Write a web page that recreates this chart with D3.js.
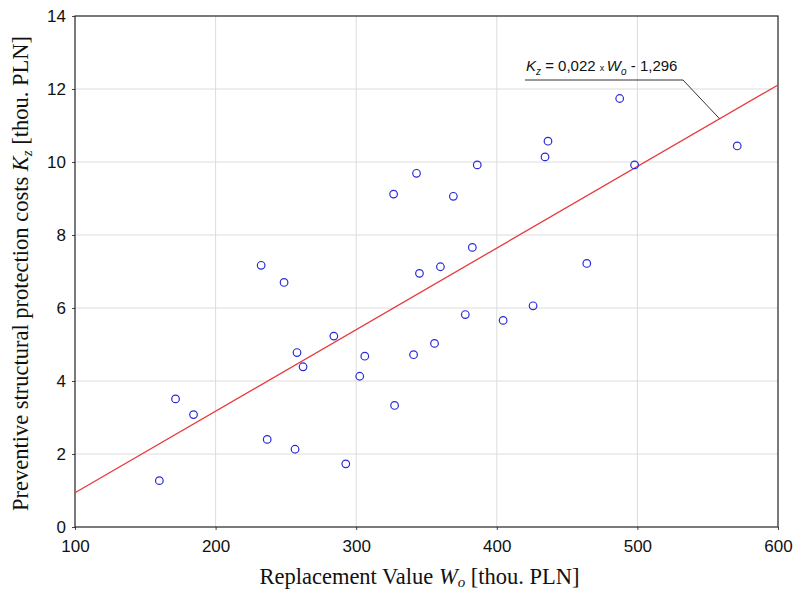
<!DOCTYPE html>
<html>
<head>
<meta charset="utf-8">
<script src="https://cdn.jsdelivr.net/npm/d3@7"></script>
<style>
  body { margin: 0; background: #fff; }
  svg { display: block; }
</style>
</head>
<body>
<div class="chart"></div>
<script>
// replacement value Wo [thou. PLN]
const wo = [160, 171.5, 184.3, 232.4, 236.7, 248.7, 256.5, 257.9, 262.2, 284.1, 292.6,
  302.5, 306.1, 326.6, 327.3, 340.8, 342.9, 345.0, 355.7, 359.9, 369.1, 377.6,
  382.6, 386.1, 404.5, 425.8, 434.3, 436.4, 464.0, 487.4, 498.0, 571.0];
// preventive structural protection costs Kz [thou. PLN]
const kz = [1.27, 3.51, 3.08, 7.17, 2.40, 6.70, 2.13, 4.78, 4.39, 5.23, 1.73,
  4.13, 4.68, 9.12, 3.33, 4.72, 9.69, 6.95, 5.03, 7.13, 9.06, 5.82,
  7.66, 9.92, 5.66, 6.06, 10.14, 10.57, 7.22, 11.74, 9.92, 10.44];
const slope = 0.02234, intercept = -1.294;
const xTicks = [100, 200, 300, 400, 500, 600];
const yTicks = [0, 2, 4, 6, 8, 10, 12, 14];

const W = 794, H = 593;
const margin = { top: 16, right: 16, bottom: 66, left: 75 };
const width = W - margin.left - margin.right,
  height = H - margin.top - margin.bottom;

const svg = d3.select(".chart").append("svg")
  .attr("width", W).attr("height", H);
const g = svg.append("g")
  .attr("transform", `translate(${margin.left},${margin.top})`);

const x = d3.scaleLinear().domain([100, 600]).range([0, width]);
const y = d3.scaleLinear().domain([0, 14]).range([height, 0]);

// grid
g.append("g").selectAll("line").data(xTicks.slice(1, -1)).join("line")
  .attr("x1", d => x(d)).attr("x2", d => x(d))
  .attr("y1", 0).attr("y2", height)
  .attr("stroke", "#dcdcdc");
g.append("g").selectAll("line").data(yTicks.slice(1, -1)).join("line")
  .attr("y1", d => y(d)).attr("y2", d => y(d))
  .attr("x1", 0).attr("x2", width)
  .attr("stroke", "#dcdcdc");

// axes
const xAxis = g.append("g").attr("transform", `translate(0,${height})`)
  .call(d3.axisBottom(x).tickValues(xTicks).tickSize(3).tickSizeOuter(0).tickPadding(6));
const yAxis = g.append("g")
  .call(d3.axisLeft(y).tickValues(yTicks).tickSize(3).tickSizeOuter(0).tickPadding(6));
[xAxis, yAxis].forEach(a => {
  a.select(".domain").remove();
  a.selectAll("text").attr("font-family", "Liberation Sans, Arial, sans-serif")
    .attr("font-size", "17px").attr("fill", "#111");
  a.selectAll(".tick line").attr("stroke", "#444");
});
xAxis.selectAll("text").attr("dy", "0.95em");

// frame
g.append("rect").attr("width", width).attr("height", height)
  .attr("fill", "none").attr("stroke", "#222").attr("stroke-width", 1.2);

// regression line
g.append("line")
  .attr("x1", x(100)).attr("y1", y(slope * 100 + intercept))
  .attr("x2", x(600)).attr("y2", y(slope * 600 + intercept))
  .attr("stroke", "#e8383a").attr("stroke-width", 1.3);

// points
g.append("g").selectAll("circle").data(wo).join("circle")
  .attr("cx", d => x(d)).attr("cy", (d, i) => y(kz[i]))
  .attr("r", 3.8)
  .attr("fill", "none").attr("stroke", "#2a2ad8").attr("stroke-width", 1.2);

// equation label with leader to the fit line
const lx = 558.5, tx = 525, tyLine = 80;
svg.append("polyline")
  .attr("points", `${tx},${tyLine} ${683},${tyLine} ${margin.left + x(lx)},${margin.top + y(slope * lx + intercept)}`)
  .attr("fill", "none").attr("stroke", "#333").attr("stroke-width", 1);
const eq = svg.append("text").attr("x", tx + 1).attr("y", 71)
  .attr("font-family", "Liberation Sans, Arial, sans-serif").attr("font-size", "15px").attr("fill", "#111");
eq.append("tspan").attr("font-style", "italic").text("K");
eq.append("tspan").attr("font-style", "italic").attr("font-size", "10px").attr("dy", 4).text("z");
eq.append("tspan").attr("dy", -4).text(" = 0,022 ");
eq.append("tspan").attr("font-size", "9px").text("x ");
eq.append("tspan").attr("font-style", "italic").text("W");
eq.append("tspan").attr("font-style", "italic").attr("font-size", "10px").attr("dy", 4).text("o");
eq.append("tspan").attr("dy", -4).text(" - 1,296");

// axis titles
const xt = svg.append("text").attr("x", margin.left + width / 2 - 7).attr("y", 584)
  .attr("text-anchor", "middle")
  .attr("font-family", "Liberation Serif, Times New Roman, serif").attr("font-size", "22.5px").attr("fill", "#111");
xt.append("tspan").text("Replacement Value ");
xt.append("tspan").attr("font-style", "italic").text("W");
xt.append("tspan").attr("font-style", "italic").attr("font-size", "15px").attr("dy", 3).text("o");
xt.append("tspan").attr("dy", -3).text(" [thou. PLN]");

const yt = svg.append("text")
  .attr("transform", `translate(28,${margin.top + height / 2 + 2}) rotate(-90)`)
  .attr("text-anchor", "middle")
  .attr("font-family", "Liberation Serif, Times New Roman, serif").attr("font-size", "22.5px").attr("fill", "#111");
yt.append("tspan").text("Preventive structural protection costs ");
yt.append("tspan").attr("font-style", "italic").text("K");
yt.append("tspan").attr("font-style", "italic").attr("font-size", "15px").attr("dy", 4).text("z");
yt.append("tspan").attr("dy", -4).text(" [thou. PLN]");
</script>
</body>
</html>
